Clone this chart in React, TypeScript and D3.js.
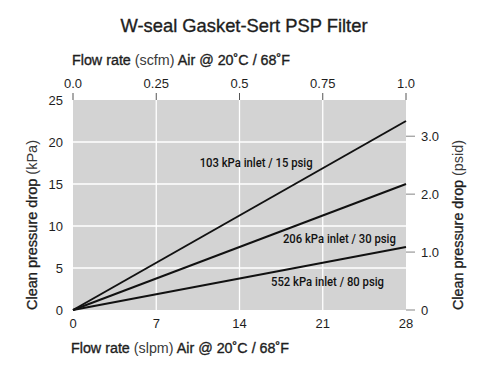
import React from "react";
import * as d3 from "d3";

const slpmTicks = [0, 7, 14, 21, 28];
const scfmTicks = [0, 0.25, 0.5, 0.75, 1.0];
const scfmTickLabels = ["0.0", "0.25", "0.5", "0.75", "1.0"];
const kpaTicks = [0, 5, 10, 15, 20, 25];
const psidTicks = [0, 1, 2, 3];
const psidTickLabels = ["0", "1.0", "2.0", "3.0"];

const flowSlpm = [0, 28];
const series103 = [0, 22.5];
const series206 = [0, 15.0];
const series552 = [0, 7.5];
const seriesNames = ["103 kPa inlet / 15 psig", "206 kPa inlet / 30 psig", "552 kPa inlet / 80 psig"];
const labelAt = [
  { slpm: 15.4, kpa: 17.0 },
  { slpm: 22.4, kpa: 8.0 },
  { slpm: 21.4, kpa: 2.8 },
];

const W = 500, H = 378;
const left = 73, right = 406, top = 100, bottom = 310;
const font = "'Liberation Sans', Arial, Helvetica, sans-serif";
const med = "Roboto, 'Liberation Sans', Arial, sans-serif";
const txt = "#1e1e1e";
const light = "#3a3a3a";

export default function App() {
  const x = d3.scaleLinear().domain([0, 28]).range([left, right]);
  const xTop = d3.scaleLinear().domain([0, 1]).range([left, right]);
  const y = d3.scaleLinear().domain([0, 25]).range([bottom, top]);
  const yPsi = d3.scaleLinear().domain([0, 25 / 6.895]).range([bottom, top]);
  const line = d3.line<number>().x((_, i) => x(flowSlpm[i])).y((d) => y(d));
  const allSeries = [series103, series206, series552];
  const medStroke = { stroke: txt, strokeWidth: 0.35 };

  return (
    <svg width={W} height={H} style={{ position: "absolute", left: 0, top: 0, background: "#fff" }} fontFamily={font}>
      <rect x={0} y={0} width={W} height={H} fill="#fff" />
      <text x={244} y={32} textAnchor="middle" fontSize={18.5} fill={txt} {...medStroke}
        textLength={247} lengthAdjust="spacingAndGlyphs">W-seal Gasket-Sert PSP Filter</text>

      <text x={72} y={65} fontSize={14} fill={txt} textLength={218} lengthAdjust="spacingAndGlyphs">
        <tspan {...medStroke}>Flow rate </tspan>
        <tspan fill={light}>(scfm) </tspan>
        <tspan {...medStroke}>Air @ 20˚C / 68˚F</tspan>
      </text>

      <rect x={left} y={top} width={right - left} height={bottom - top} fill="#d3d3d3" />
      {kpaTicks.filter((t) => t > 0 && t < 25).map((t) => (
        <line key={"gy" + t} x1={left} x2={right} y1={y(t)} y2={y(t)} stroke="#fff" strokeWidth={1.3} />
      ))}
      {slpmTicks.filter((t) => t > 0 && t < 28).map((t) => (
        <line key={"gx" + t} x1={x(t)} x2={x(t)} y1={top} y2={bottom} stroke="#fff" strokeWidth={1.3} />
      ))}

      {scfmTicks.map((t, i) => (
        <g key={"st" + t}>
          <line x1={xTop(t)} x2={xTop(t)} y1={93} y2={100} stroke="#555" strokeWidth={1} />
          <text x={xTop(t)} y={88} textAnchor="middle" fontSize={13} fill={txt}>{scfmTickLabels[i]}</text>
        </g>
      ))}

      {kpaTicks.map((t) => (
        <text key={"k" + t} x={63} y={y(t) + 4.5} textAnchor="end" fontSize={13} fill={txt}>{t}</text>
      ))}

      {psidTicks.map((t, i) => (
        <g key={"p" + t}>
          <line x1={right} x2={415} y1={yPsi(t)} y2={yPsi(t)} stroke="#999" strokeWidth={1.2} />
          <text x={421} y={yPsi(t) + 4.5} fontSize={13} fill={txt}>{psidTickLabels[i]}</text>
        </g>
      ))}

      {slpmTicks.map((t) => (
        <text key={"sl" + t} x={x(t)} y={328} textAnchor="middle" fontSize={13} fill={txt}>{t}</text>
      ))}

      <text x={71} y={353} fontSize={14} fill={txt} textLength={218} lengthAdjust="spacingAndGlyphs">
        <tspan {...medStroke}>Flow rate </tspan>
        <tspan fill={light}>(slpm) </tspan>
        <tspan {...medStroke}>Air @ 20˚C / 68˚F</tspan>
      </text>

      <text transform="translate(37,225) rotate(-90)" textAnchor="middle" fontSize={15} fill={txt}
        textLength={170} lengthAdjust="spacingAndGlyphs">
        <tspan {...medStroke}>Clean pressure drop </tspan>
        <tspan fill={light}>(kPa)</tspan>
      </text>
      <text transform="translate(463,225) rotate(-90)" textAnchor="middle" fontSize={15} fill={txt}
        textLength={170} lengthAdjust="spacingAndGlyphs">
        <tspan {...medStroke}>Clean pressure drop </tspan>
        <tspan fill={light}>(psid)</tspan>
      </text>

      {allSeries.map((s, i) => (
        <path key={"s" + i} d={line(s) || ""} fill="none" stroke="#111" strokeWidth={2} />
      ))}

      {seriesNames.map((n, i) => (
        <text key={"l" + i} x={x(labelAt[i].slpm)} y={y(labelAt[i].kpa)} textAnchor="middle" fontSize={12.5}
          fontFamily={med} fontWeight={500} fill="#111" textLength={113} lengthAdjust="spacingAndGlyphs">{n}</text>
      ))}
    </svg>
  );
}
